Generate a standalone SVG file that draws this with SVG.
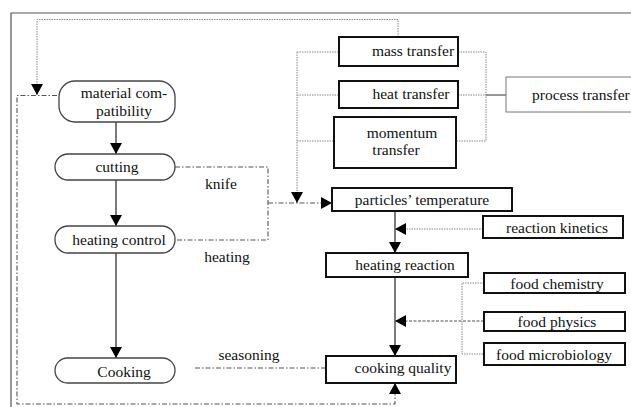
<svg xmlns="http://www.w3.org/2000/svg" width="631" height="407" viewBox="0 0 631 407">
<style>
text{font-family:'Liberation Serif','DejaVu Serif','Times New Roman',serif;font-size:15.5px;fill:#111}
.rnode{fill:#fff;stroke:#444;stroke-width:1.3}
.box{fill:#fff;stroke:#111;stroke-width:2}
.thin{fill:#fff;stroke:#777;stroke-width:1}
.solid{fill:none;stroke:#333;stroke-width:1.3}
.dot{fill:none;stroke:#888;stroke-width:1;stroke-dasharray:1.5 1}
.dd{fill:none;stroke:#555;stroke-width:1.1;stroke-dasharray:5 2 1.5 2}
.frame{fill:none;stroke:#555;stroke-width:1.2}
</style>
<defs>
<marker id="arr" viewBox="0 0 11 12" refX="11" refY="6" markerWidth="11" markerHeight="12" orient="auto" markerUnits="userSpaceOnUse">
<path d="M0,0 L11,6 L0,12 z" fill="#000"/>
</marker>
</defs>
<path class="frame" d="M11,407 V13 H631"/>
<g id="connectors">
<path class="dot" d="M398,37 V19.5 H37 V95" marker-end="url(#arr)"/>
<path class="dd" d="M57,95.5 H17 V404 H395 V383" marker-end="url(#arr)"/>
<path class="solid" d="M116,122 V154" marker-end="url(#arr)"/>
<path class="solid" d="M116,180 V226" marker-end="url(#arr)"/>
<path class="solid" d="M116,253 V358" marker-end="url(#arr)"/>
<path class="dd" d="M175,167 H268 V240 H175"/>
<path class="dd" d="M268,203 H332" marker-end="url(#arr)"/>
<path class="dot" d="M297,52 V203" marker-end="url(#arr)"/>
<path class="dot" d="M297,52 H339 M297,95 H339 M297,141 H334"/>
<path class="dot" d="M458,52 H486 V141 H456 M458,95 H486"/>
<path class="solid" d="M486,95 H506" style="stroke-width:1"/>
<path class="solid" d="M395,211 V253" marker-end="url(#arr)"/>
<path class="dot" d="M483,229 H395" marker-end="url(#arr)"/>
<path class="solid" d="M395,277 V356" marker-end="url(#arr)"/>
<path class="dot" d="M484,283 H462 V354 H484"/>
<path class="dd" d="M484,321 H395" marker-end="url(#arr)" style="stroke-dasharray:3 1.5"/>
<path class="dd" d="M195,368 H342" marker-end="url(#arr)"/>
</g>
<g id="material">
<rect class="rnode" x="59" y="81" width="116" height="41" rx="16"/>
<text x="124" y="98" text-anchor="middle">material com-</text>
<text x="124" y="116" text-anchor="middle">patibility</text>
</g>
<g id="cutting">
<rect class="rnode" x="55" y="154" width="120" height="26" rx="13"/>
<text x="117" y="172" text-anchor="middle">cutting</text>
</g>
<g id="heatingcontrol">
<rect class="rnode" x="55" y="226" width="120" height="27" rx="13"/>
<text x="119" y="245" text-anchor="middle">heating control</text>
</g>
<g id="cooking">
<rect class="rnode" x="55" y="358" width="120" height="25" rx="12.5"/>
<text x="124" y="377" text-anchor="middle">Cooking</text>
</g>
<g id="labels">
<text x="221" y="189" text-anchor="middle">knife</text>
<text x="227" y="262" text-anchor="middle">heating</text>
<text x="249" y="360" text-anchor="middle">seasoning</text>
</g>
<g id="mass">
<rect class="box" x="339" y="37" width="119" height="29"/>
<text x="413" y="56" text-anchor="middle">mass transfer</text>
</g>
<g id="heat">
<rect class="box" x="339" y="81" width="119" height="27"/>
<text x="411" y="99" text-anchor="middle">heat transfer</text>
</g>
<g id="momentum">
<rect class="box" x="334" y="117" width="122" height="51"/>
<text x="402" y="138" text-anchor="middle">momentum</text>
<text x="396" y="155" text-anchor="middle">transfer</text>
</g>
<g id="process">
<rect class="thin" x="506" y="77" width="130" height="35"/>
<text x="532" y="100">process transfer</text>
</g>
<g id="particles">
<rect class="box" x="332" y="188" width="180" height="23"/>
<text x="422" y="205" text-anchor="middle">particles’ temperature</text>
</g>
<g id="kinetics">
<rect class="box" x="483" y="216" width="140" height="22"/>
<text x="557" y="233" text-anchor="middle">reaction kinetics</text>
</g>
<g id="heatingreaction">
<rect class="box" x="326" y="253" width="142" height="24"/>
<text x="405" y="270" text-anchor="middle">heating reaction</text>
</g>
<g id="chemistry">
<rect class="box" x="484" y="273" width="141" height="20"/>
<text x="557" y="289" text-anchor="middle">food chemistry</text>
</g>
<g id="physics">
<rect class="box" x="484" y="312" width="141" height="19"/>
<text x="557" y="327" text-anchor="middle">food physics</text>
</g>
<g id="microbiology">
<rect class="box" x="484" y="343" width="141" height="22"/>
<text x="554" y="360" text-anchor="middle">food microbiology</text>
</g>
<g id="quality">
<rect class="box" x="326" y="356" width="130" height="27"/>
<text x="403" y="373" text-anchor="middle">cooking quality</text>
</g>
</svg>
